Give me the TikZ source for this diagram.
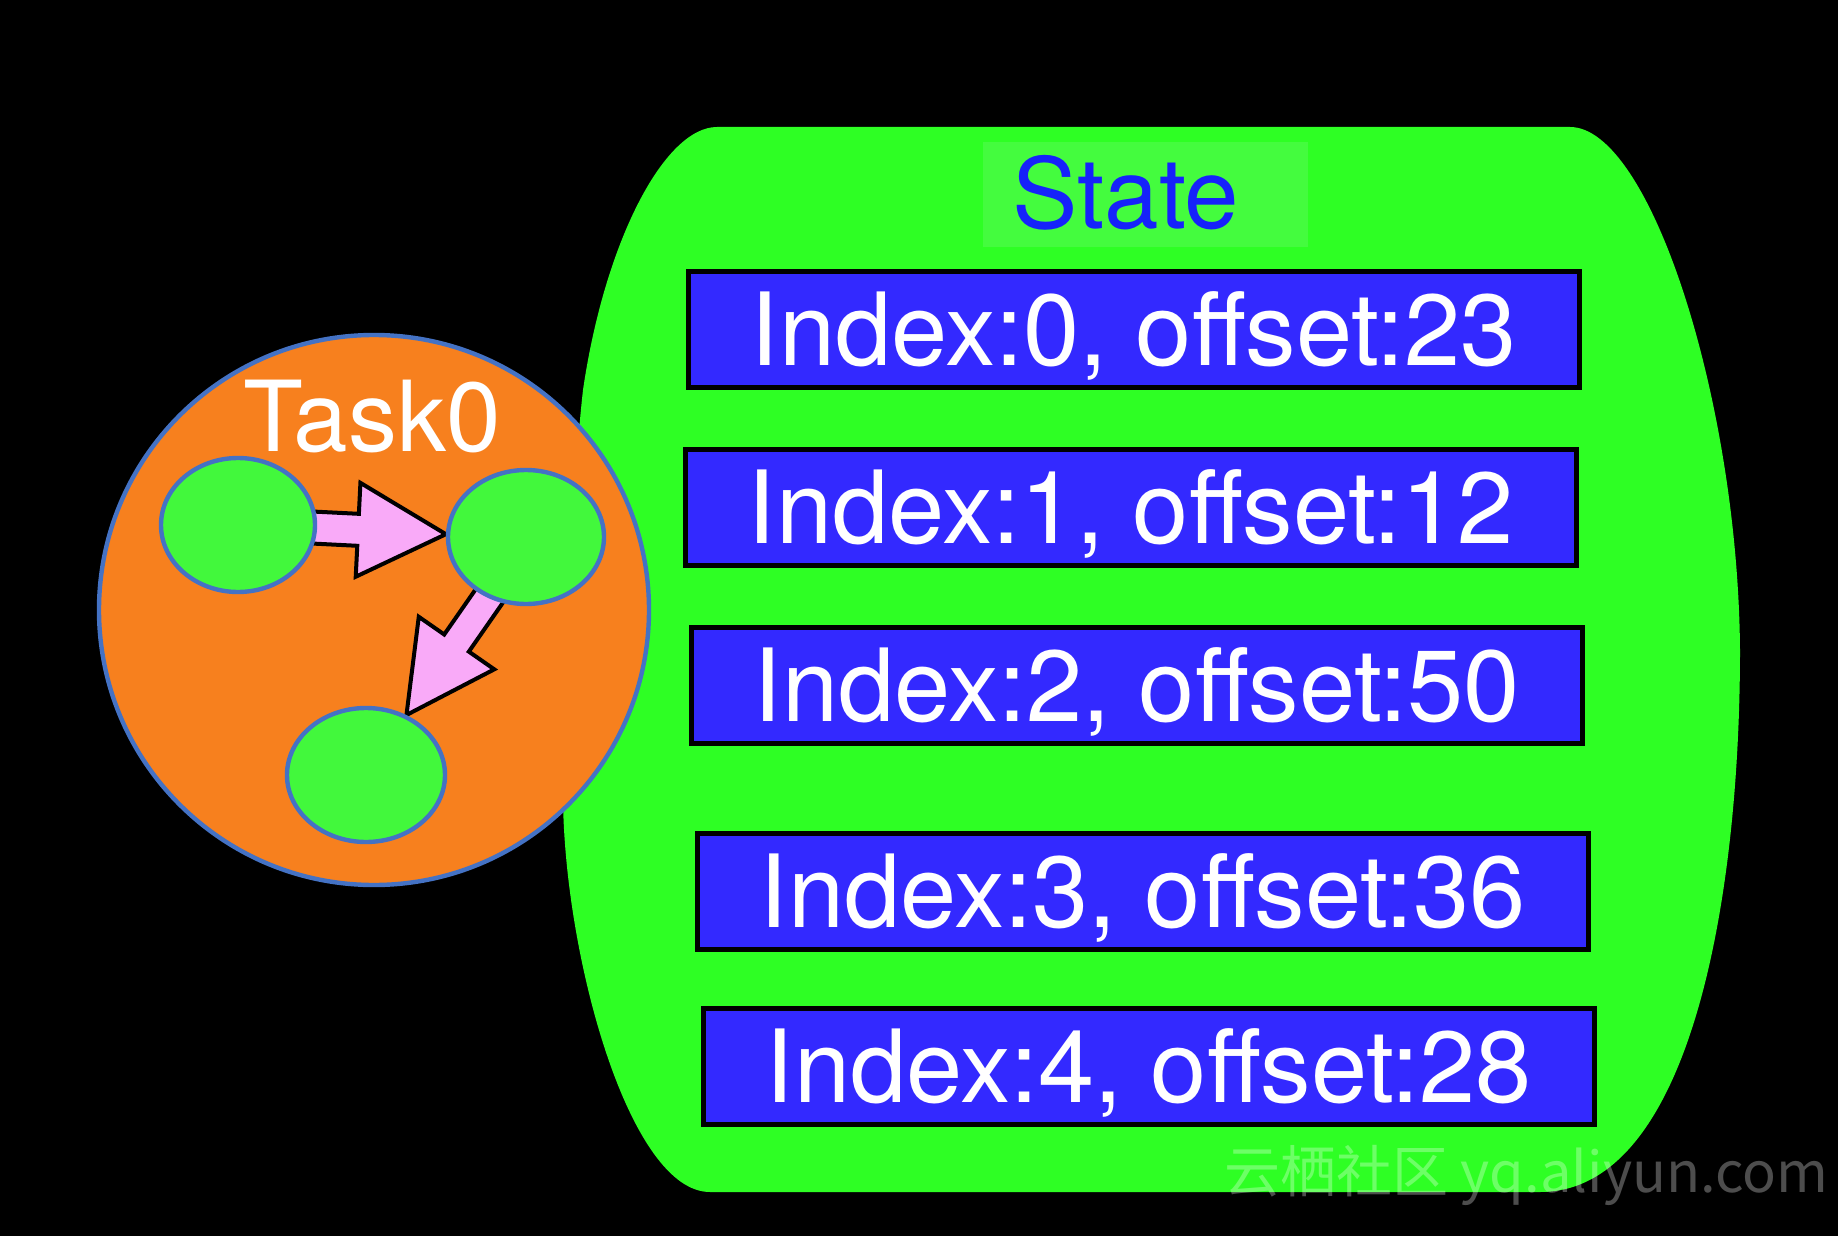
\documentclass[tikz,border=0pt]{standalone}
\usepackage{fontspec}
\setmainfont{TeX Gyre Heros}
\newfontfamily\cjkfont{Noto Sans CJK SC}
\usetikzlibrary{calc,shapes.geometric}
\definecolor{bgreen}{RGB}{46,255,36}
\definecolor{sgreen}{RGB}{68,252,62}
\definecolor{egreen}{RGB}{66,248,60}
\definecolor{iblue}{RGB}{51,41,255}
\definecolor{sblue}{RGB}{22,34,250}
\definecolor{oorange}{RGB}{247,128,30}
\definecolor{cblue}{RGB}{68,114,196}
\definecolor{apink}{RGB}{249,170,248}
\pgfdeclarelayer{back}
\pgfdeclarelayer{mid}
\pgfsetlayers{back,mid,main}
\newcommand\blockarr[5]{%
  \draw[barrow] ($(#1)!#4!90:(#2)$) -- ($(#1)!#3!(#2)!#4!90:(#2)$) -- ($(#1)!#3!(#2)!#5!90:(#2)$) -- (#2)
   -- ($(#1)!#3!(#2)!#5!-90:(#2)$) -- ($(#1)!#3!(#2)!#4!-90:(#2)$) -- ($(#1)!#4!-90:(#2)$) -- cycle;}
\begin{document}
\begin{tikzpicture}[x=0.5pt,y=-0.5pt,
  idxbox/.style={draw=black, line width=2.5pt, fill=iblue, minimum width=445.5pt, minimum height=58pt,
    inner sep=0pt, text=white, font=\fontsize{50.5pt}{60pt}\selectfont, text height=36.2pt, text depth=0pt},
  subtask/.style={ellipse, draw=cblue, line width=2.2pt, fill=egreen, inner sep=0pt, minimum height=67pt},
  barrow/.style={draw=black, line width=2pt, fill=apink, line join=miter},
  biglbl/.style={inner sep=0pt, font=\fontsize{49pt}{58pt}\selectfont}]
\begin{pgfonlayer}{back}
\fill[black] (0,0) rectangle (1838,1236);
\fill[bgreen] (717,127) -- (1570,127) .. controls (1650,127) and (1738,400) .. (1740,650)
  .. controls (1740,900) and (1690,1192) .. (1540,1192) -- (710,1192)
  .. controls (630,1192) and (565,960) .. (563,800)
  .. controls (563,650) and (575,460) .. (583,390)
  .. controls (605,240) and (665,127) .. (717,127) -- cycle;
\node[circle, draw=cblue, line width=2.2pt, fill=oorange, minimum size=275pt, inner sep=0pt] (task) at (374,610) {};
\end{pgfonlayer}
\useasboundingbox (0,0) rectangle (1838,1236);

% state label
\node[fill=sgreen, minimum width=162.5pt, minimum height=52.5pt, inner sep=0pt] (sbg) at (1145.5,194.5) {};
\node[biglbl, anchor=base west, text=sblue] (slabel) at (1012,228) {State};

% index boxes
\node[idxbox] (b0) at (1134,329.5) {Index:0, offset:23};
\node[idxbox] (b1) at (1131,507) {Index:1, offset:12};
\node[idxbox] (b2) at (1137,685.5) {Index:2, offset:50};
\node[idxbox] (b3) at (1143,891) {Index:3, offset:36};
\node[idxbox] (b4) at (1149,1066.5) {Index:4, offset:28};

% task
\node[biglbl, anchor=base, text=white] (tlabel) at (372,451) {Task0};
\node[subtask, minimum width=77pt] (E1) at (238,525) {};
\node[subtask, minimum width=78pt] (E2) at (526,537) {};
\node[subtask, minimum width=79pt] (E3) at (366,775) {};

\begin{pgfonlayer}{mid}
\coordinate (a1h) at (E2.178);
\coordinate (a1t) at ($(E1.-2)!-5pt!(a1h)$);
\coordinate (a2h) at (E3.56);
\coordinate (a2t) at ($(E2.238)!-5pt!(a2h)$);
\blockarr{a1t}{a1h}{25.5pt}{8pt}{23.5pt}
\blockarr{a2t}{a2h}{32.5pt}{7.5pt}{23pt}
\end{pgfonlayer}

% watermark
\node[anchor=base west, inner sep=0pt, text=white, text opacity=0.3,
  font=\cjkfont\fontsize{28pt}{30pt}\selectfont] (wm) at (1224,1192) {云栖社区 yq.aliyun.com};
\end{tikzpicture}
\end{document}
